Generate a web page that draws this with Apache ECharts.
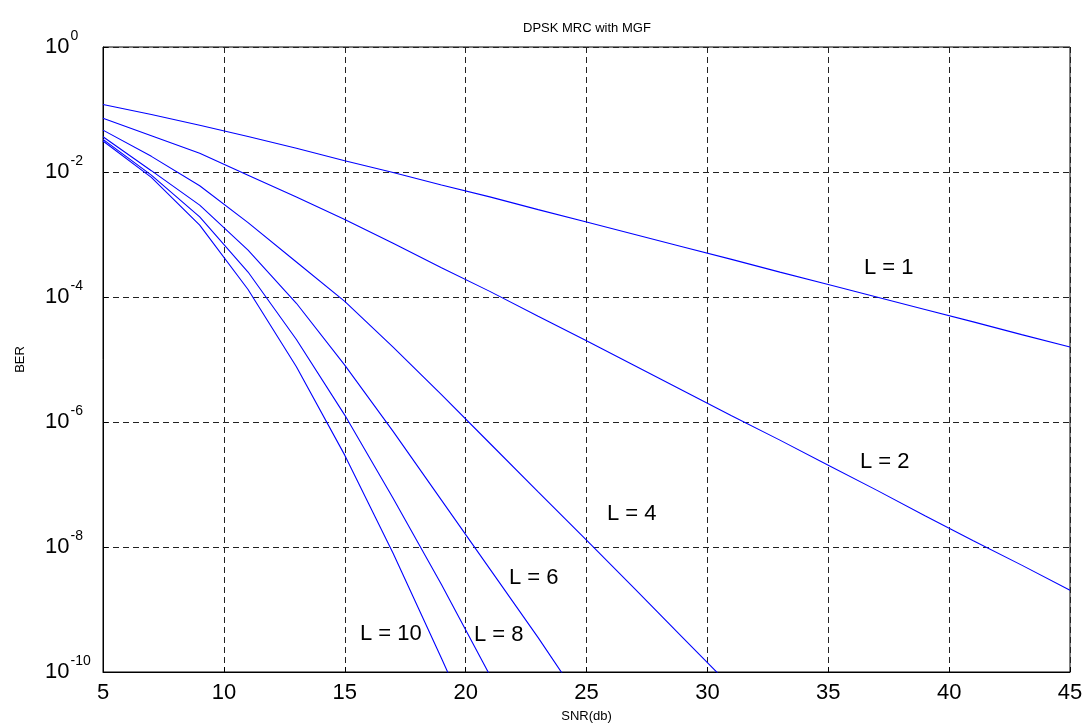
<!DOCTYPE html>
<html>
<head>
<meta charset="utf-8">
<script src="https://cdn.jsdelivr.net/npm/echarts@6/dist/echarts.min.js"></script>
<style>
html,body{margin:0;padding:0;background:#fff;}
#chart{width:1086px;height:728px;}
</style>
</head>
<body>
<div id="chart"></div>
<script>
// SNR points (dB)
var snr = [5,7,9,11,13,15,17,19,21,23,25,27,29,31,33,35,37,39,41,43,45];

// BER values, one array per diversity order
var berL1  = [1.20e-1,8.3e-2,5.6e-2,3.7e-2,2.4e-2,1.51e-2,9.8e-3,6.2e-3,4.0e-3,2.5e-3,1.58e-3,1.0e-3,6.3e-4,4.0e-4,2.5e-4,1.58e-4,1.0e-4,6.3e-5,4.0e-5,2.5e-5,1.58e-5];
var berL2  = [7.24e-2,3.80e-2,2.00e-2,8.91e-3,3.98e-3,1.74e-3,7.24e-4,2.95e-4,1.23e-4,4.90e-5,2.00e-5,7.94e-6,3.16e-6,1.26e-6,5.13e-7,2.04e-7,8.13e-8,3.16e-8,1.26e-8,5.13e-9,2.04e-9];
var berL4  = [4.68e-2,1.78e-2,6.03e-3,1.55e-3,3.63e-4,8.51e-5,1.58e-5,2.75e-6,4.57e-7,7.59e-8,1.29e-8,2.14e-9,3.47e-10,5.75e-11];
var berL6  = [3.67e-2,1.05e-2,2.95e-3,5.62e-4,7.94e-5,8.13e-6,7.08e-7,5.62e-8,4.47e-9,3.55e-10,2.51e-11];
var berL8  = [3.33e-2,8.91e-3,1.91e-3,2.51e-4,2.09e-5,1.29e-6,6.03e-8,2.51e-9,8.91e-11];
var berL10 = [3.13e-2,8.22e-3,1.41e-3,1.32e-4,7.67e-6,2.95e-7,7.94e-9,1.66e-10,3.16e-12];

var seriesNames = ['L = 1','L = 2','L = 4','L = 6','L = 8','L = 10'];
var seriesData = [berL1, berL2, berL4, berL6, berL8, berL10];

// x tick labels
var xTicks = [5,10,15,20,25,30,35,40,45];

var FONT = '"Liberation Sans", Arial, Helvetica, sans-serif';

function pairs(vals){
  return vals.map(function(v,i){ return [snr[i], v]; });
}

var chart = echarts.init(document.getElementById('chart'), null, {renderer:'canvas'});

var series = seriesData.map(function(d, k){
  return {
    name: seriesNames[k],
    type: 'line',
    data: pairs(d),
    showSymbol: false,
    symbol: 'none',
    clip: true,
    lineStyle: {color: '#0000ff', width: 1.1},
    itemStyle: {color: '#0000ff'},
    emphasis: {disabled: true},
    animation: false
  };
});

var option = {
  animation: false,
  backgroundColor: '#ffffff',
  title: {
    text: 'DPSK MRC with MGF',
    left: 523,
    top: 22,
    padding: 0,
    textStyle: {fontFamily: FONT, fontSize: 13, fontWeight: 'normal', color: '#000'}
  },
  grid: {
    left: 103, right: 16, top: 47, bottom: 56,
    show: true, borderColor: '#000', borderWidth: 1, backgroundColor: 'transparent'
  },
  xAxis: {
    type: 'value',
    min: 5, max: 45, interval: 5,
    name: 'SNR(db)',
    nameLocation: 'middle',
    nameGap: 38,
    nameTextStyle: {fontFamily: FONT, fontSize: 13, color: '#000'},
    axisLine: {show: true, lineStyle: {color: '#000', width: 1}},
    axisTick: {show: true, inside: true, length: 5, lineStyle: {color: '#000'}},
    axisLabel: {
      fontFamily: FONT, fontSize: 22, color: '#000', margin: 10,
      formatter: function(v){ return xTicks.indexOf(v) >= 0 ? String(v) : ''; }
    },
    splitLine: {show: true, lineStyle: {color: '#222', type: [6,4], width: 1}}
  },
  yAxis: {
    type: 'log',
    logBase: 10,
    min: 1e-10, max: 1,
    interval: 2,
    splitNumber: 5,
    name: 'BER',
    nameLocation: 'middle',
    nameGap: 76,
    nameTextStyle: {fontFamily: FONT, fontSize: 13, color: '#000'},
    axisLine: {show: true, lineStyle: {color: '#000', width: 1}},
    axisTick: {show: true, inside: true, length: 5, lineStyle: {color: '#000'}},
    minorTick: {show: false},
    axisLabel: {
      align: 'left',
      margin: 58,
      formatter: function(v){
        var e = Math.round(Math.log(v)/Math.LN10);
        return '{b|10}{s|' + e + '}';
      },
      rich: {
        b: {fontFamily: FONT, fontSize: 22, lineHeight: 22, color: '#000'},
        s: {fontFamily: FONT, fontSize: 14, lineHeight: 14, color: '#000', padding: [0,0,22,1]}
      }
    },
    splitLine: {show: true, lineStyle: {color: '#222', type: [6,4], width: 1}}
  },
  graphic: [
    {type:'text', left: 864, top: 257, style:{text:'L = 1',  font:'22px ' + FONT, fill:'#000'}},
    {type:'text', left: 860, top: 451, style:{text:'L = 2',  font:'22px ' + FONT, fill:'#000'}},
    {type:'text', left: 607, top: 503, style:{text:'L = 4',  font:'22px ' + FONT, fill:'#000'}},
    {type:'text', left: 509, top: 567, style:{text:'L = 6',  font:'22px ' + FONT, fill:'#000'}},
    {type:'text', left: 474, top: 624, style:{text:'L = 8',  font:'22px ' + FONT, fill:'#000'}},
    {type:'text', left: 360, top: 623, style:{text:'L = 10', font:'22px ' + FONT, fill:'#000'}}
  ],
  series: series
};

chart.setOption(option);
</script>
</body>
</html>
